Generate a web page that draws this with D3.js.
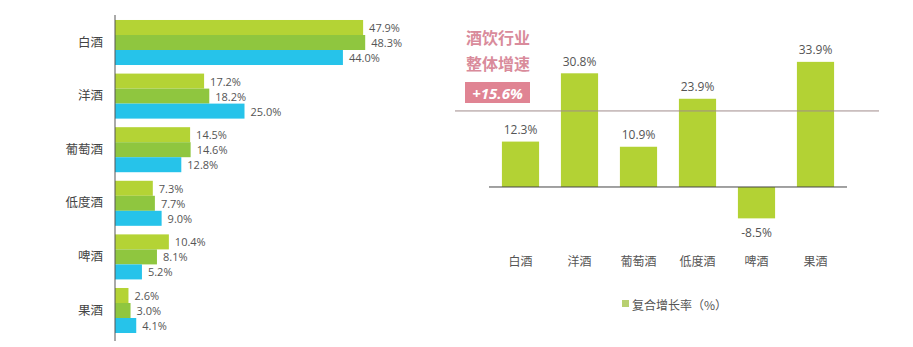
<!DOCTYPE html>
<html>
<head>
<meta charset="utf-8">
<script src="https://cdn.jsdelivr.net/npm/d3@7"></script>
<style>
  html, body { margin: 0; padding: 0; background: #fff; }
  svg { display: block; font-family: "Open Sans", "Noto Sans CJK SC", sans-serif; }
</style>
</head>
<body>
<svg id="chart" width="913" height="347"></svg>
<script>
// 左图：三组占比
const categories = ['白酒', '洋酒', '葡萄酒', '低度酒', '啤酒', '果酒'];
const seriesA = [47.9, 17.2, 14.5, 7.3, 10.4, 2.6];
const seriesB = [48.3, 18.2, 14.6, 7.7, 8.1, 3.0];
const seriesC = [44.0, 25.0, 12.8, 9.0, 5.2, 4.1];
// 右图：复合增长率
const growth = [12.3, 30.8, 10.9, 23.9, -8.5, 33.9];
const avgGrowthLabel = '+15.6%';
const avgLineAt = 20.6;   // 原图参考线所在位置
const legendLabel = '复合增长率（%）';

const svg = d3.select('#chart');
const colors = ['#b4d335', '#8fc63f', '#26c3ea'];
const cjk = '"Noto Sans CJK SC", sans-serif';

// ---------- 左图 ----------
const yL = d3.scaleBand().domain(categories).range([15.7, 337.3]).paddingInner(0.16).paddingOuter(0.08);
const sub = d3.scaleBand().domain([0, 1, 2]).range([0, yL.bandwidth()]);
const xL = d3.scaleLinear().domain([0, 50]).range([115, 374]);

const rows = [];
categories.forEach((c, i) => {
  [seriesA, seriesB, seriesC].forEach((s, k) => rows.push({ c, k, v: s[i] }));
});

const left = svg.append('g');
left.selectAll('rect').data(rows).join('rect')
  .attr('x', xL(0))
  .attr('y', d => yL(d.c) + sub(d.k))
  .attr('width', d => xL(d.v) - xL(0))
  .attr('height', sub.bandwidth())
  .attr('fill', d => colors[d.k]);

left.selectAll('.vl').data(rows).join('text')
  .attr('x', d => xL(d.v) + 6)
  .attr('y', d => yL(d.c) + sub(d.k) + sub.bandwidth() / 2)
  .attr('dominant-baseline', 'central')
  .attr('font-size', 11).attr('fill', '#555')
  .text(d => d.v.toFixed(1) + '%');

left.append('g')
  .attr('transform', `translate(${xL(0)},0)`)
  .call(d3.axisLeft(yL).tickSize(0).tickPadding(12))
  .call(g => g.select('.domain').attr('d', 'M0,15V341').attr('stroke', '#555'))
  .selectAll('text')
  .attr('font-family', cjk).attr('font-size', 12.5).attr('fill', '#444');

// ---------- 右图 ----------
const xR = d3.scaleBand().domain(categories).range([491, 845]).paddingInner(0.37).paddingOuter(0.185);
const yR = d3.scaleLinear().domain([-10, 35]).range([223.9, 57.8]);

const right = svg.append('g');

right.selectAll('rect').data(growth).join('rect')
  .attr('x', (d, i) => xR(categories[i]))
  .attr('y', d => yR(Math.max(0, d)))
  .attr('width', xR.bandwidth())
  .attr('height', d => Math.abs(yR(d) - yR(0)))
  .attr('fill', '#b3d234');

// 参考线
right.append('line')
  .attr('x1', 455).attr('x2', 879)
  .attr('y1', yR(avgLineAt)).attr('y2', yR(avgLineAt))
  .attr('stroke', '#a08c8c').attr('stroke-width', 1);

// 零线
right.append('line')
  .attr('x1', 489).attr('x2', 847)
  .attr('y1', yR(0)).attr('y2', yR(0))
  .attr('stroke', '#444').attr('stroke-width', 1);

right.selectAll('.gl').data(growth).join('text')
  .attr('x', (d, i) => xR(categories[i]) + xR.bandwidth() / 2)
  .attr('y', d => d >= 0 ? yR(d) - 12 : yR(d) + 14)
  .attr('text-anchor', 'middle').attr('dominant-baseline', 'central')
  .attr('font-size', 12).attr('fill', '#555')
  .text(d => d.toFixed(1) + '%');

right.append('g')
  .attr('transform', 'translate(0,262)')
  .call(d3.axisBottom(xR).tickSize(0).tickPadding(0))
  .call(g => g.select('.domain').remove())
  .selectAll('text')
  .attr('dy', '0.35em')
  .attr('font-family', cjk).attr('font-size', 12).attr('fill', '#555');

// 标题
const title = svg.append('g').attr('font-family', cjk).attr('fill', '#d98b9b')
  .attr('font-size', 16).attr('font-weight', 'bold');
title.append('text').attr('x', 466).attr('y', 44).text('酒饮行业');
title.append('text').attr('x', 466).attr('y', 70).text('整体增速');
svg.append('rect').attr('x', 465).attr('y', 82).attr('width', 65).attr('height', 21).attr('fill', '#e08493');
svg.append('text').attr('x', 497.5).attr('y', 93)
  .attr('text-anchor', 'middle').attr('dominant-baseline', 'central')
  .attr('font-size', 15).attr('font-weight', 'bold').attr('font-style', 'italic')
  .attr('fill', '#fff').text(avgGrowthLabel);

// 图例
svg.append('rect').attr('x', 622).attr('y', 300).attr('width', 7).attr('height', 7).attr('fill', '#b8d070');
svg.append('text').attr('x', 632).attr('y', 304).attr('dominant-baseline', 'central')
  .attr('font-family', cjk).attr('font-size', 12).attr('fill', '#555').text(legendLabel);
</script>
</body>
</html>
